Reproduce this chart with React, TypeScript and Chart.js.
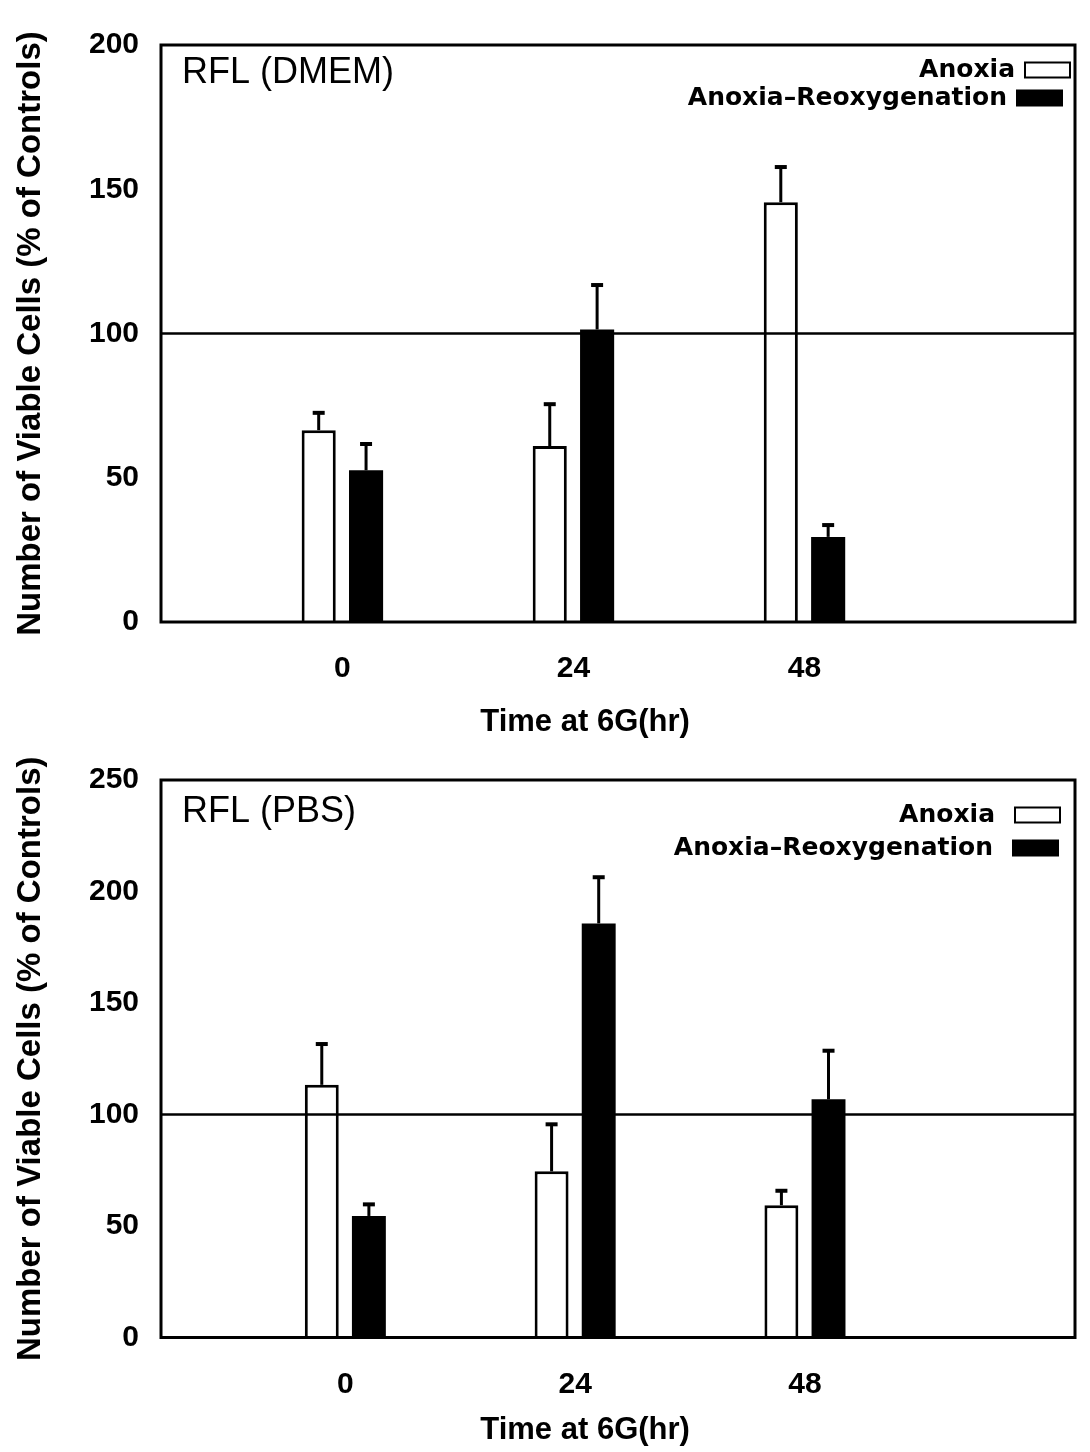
import React, { useEffect, useRef } from 'react';
import { Chart, registerables } from 'chart.js';

Chart.register(...registerables);

// ---- data ----
const TIME_HOURS = [0, 24, 48];
const TIME_LABELS = ['0', '24', '48'];
const SERIES_LABELS = ['Anoxia', 'Anoxia\u2013Reoxygenation'];
const CONTROL_LEVEL = 100;

const DMEM_ANOXIA = [66.5, 61, 145.5];
const DMEM_ANOXIA_ERR = [6, 14.5, 12.2];
const DMEM_REOX = [52.6, 101.4, 29.5];
const DMEM_REOX_ERR = [9.1, 15.4, 4.1];
const DMEM_Y_TICKS = [0, 50, 100, 150, 200];

const PBS_ANOXIA = [113.3, 74.5, 59.3];
const PBS_ANOXIA_ERR = [18.3, 21.1, 6.5];
const PBS_REOX = [54.5, 185.7, 106.8];
const PBS_REOX_ERR = [5.2, 20.7, 21.8];
const PBS_Y_TICKS = [0, 50, 100, 150, 200, 250];

const Y_TITLE = 'Number of Viable Cells (% of Controls)';
const X_TITLE = 'Time at 6G(hr)';

const SANS = '"Liberation Sans", Arial, sans-serif';

const decorPlugin = {
  id: 'decor',
  afterDatasetsDraw(chart: any, _args: any, opts: any) {
    const { ctx, chartArea: a } = chart;
    const y = chart.scales.y;
    ctx.save();
    ctx.strokeStyle = '#000';
    ctx.fillStyle = '#000';
    // control reference line
    const yRef = y.getPixelForValue(opts.refLevel);
    ctx.lineWidth = 2.5;
    ctx.beginPath();
    ctx.moveTo(a.left, yRef);
    ctx.lineTo(a.right, yRef);
    ctx.stroke();
    // error bars (upper only)
    chart.data.datasets.forEach((ds: any, di: number) => {
      const meta = chart.getDatasetMeta(di);
      meta.data.forEach((el: any, i: number) => {
        const v = ds.data[i].y;
        const e = ds.errors[i];
        const yTop = y.getPixelForValue(v + e);
        ctx.lineWidth = 3;
        ctx.beginPath();
        ctx.moveTo(el.x, el.y);
        ctx.lineTo(el.x, yTop);
        ctx.stroke();
        ctx.lineWidth = 4;
        ctx.beginPath();
        ctx.moveTo(el.x - 6, yTop);
        ctx.lineTo(el.x + 6, yTop);
        ctx.stroke();
      });
    });
    // frame
    ctx.lineWidth = 3;
    ctx.strokeRect(a.left, a.top, a.right - a.left, a.bottom - a.top);
    // panel title
    ctx.font = `36px ${SANS}`;
    ctx.textAlign = 'left';
    ctx.textBaseline = 'middle';
    ctx.fillText(opts.title, a.left + 21, a.top + opts.titleDy);
    // x axis title
    ctx.font = `bold 31px ${SANS}`;
    ctx.textAlign = 'center';
    ctx.fillText(opts.xTitle, a.left + (a.right - a.left) * 0.464, a.bottom + opts.xTitleDy);
    // legend
    ctx.font = 'bold 25px "DejaVu Sans", sans-serif';
    ctx.textAlign = 'right';
    const boxW = 45;
    const boxH = 15;
    chart.data.datasets.forEach((ds: any, di: number) => {
      const cy = a.top + opts.legendY[di];
      const bx = a.right - opts.legendRight[di] - boxW;
      ctx.fillStyle = ds.backgroundColor;
      ctx.fillRect(bx, cy - boxH / 2, boxW, boxH);
      ctx.lineWidth = 2;
      ctx.strokeRect(bx, cy - boxH / 2, boxW, boxH);
      ctx.fillStyle = '#000';
      ctx.fillText(ds.label, bx - opts.legendGap, cy);
    });
    ctx.restore();
  },
};

function makeConfig(p: any) {
  return {
    type: 'bar',
    data: {
      datasets: [
        {
          label: SERIES_LABELS[0],
          data: TIME_HOURS.map((x, i) => ({ x, y: p.anoxia[i] })),
          errors: p.anoxiaErr,
          backgroundColor: '#ffffff',
          borderColor: '#000000',
          borderWidth: 3,
          categoryPercentage: 0.41,
          barPercentage: 0.72,
        },
        {
          label: SERIES_LABELS[1],
          data: TIME_HOURS.map((x, i) => ({ x, y: p.reox[i] })),
          errors: p.reoxErr,
          backgroundColor: '#000000',
          borderColor: '#000000',
          borderWidth: 0,
          categoryPercentage: 0.41,
          barPercentage: 0.72,
        },
      ],
    },
    options: {
      responsive: false,
      animation: false,
      layout: { padding: { left: 0, right: 15, top: p.padTop, bottom: 0 } },
      plugins: {
        legend: { display: false },
        tooltip: { enabled: false },
        decor: {
          refLevel: CONTROL_LEVEL,
          title: p.title,
          titleDy: p.titleDy,
          xTitle: X_TITLE,
          xTitleDy: p.xTitleDy,
          legendY: p.legendY,
          legendRight: p.legendRight,
          legendGap: p.legendGap,
        },
      },
      scales: {
        x: {
          type: 'linear',
          min: p.xMin,
          max: p.xMax,
          offset: false,
          grid: { display: false, drawTicks: false },
          border: { display: false },
          afterBuildTicks: (s: any) => {
            s.ticks = TIME_HOURS.map((v) => ({ value: v }));
          },
          afterFit: (s: any) => {
            s.height = p.xAxisHeight;
          },
          ticks: {
            autoSkip: false,
            maxRotation: 0,
            padding: 29,
            color: '#000',
            font: { family: SANS, size: 30, weight: 'bold' },
            callback: (v: number) => {
              const i = TIME_HOURS.indexOf(v);
              return i >= 0 ? TIME_LABELS[i] : '';
            },
          },
          title: { display: false },
        },
        y: {
          min: 0,
          max: p.yMax,
          grid: { display: false, drawTicks: false },
          border: { display: false },
          afterBuildTicks: (s: any) => {
            s.ticks = p.yTicks.map((v: number) => ({ value: v }));
          },
          afterFit: (s: any) => {
            s.width = 161;
          },
          ticks: {
            padding: 22,
            color: '#000',
            font: { family: SANS, size: 30, weight: 'bold' },
          },
          title: {
            display: true,
            text: Y_TITLE,
            color: '#000',
            font: { family: SANS, size: 33, weight: 'bold' },
            padding: { top: 11, bottom: 0 },
          },
        },
      },
    },
    plugins: [decorPlugin],
  };
}

const PANELS = [
  {
    key: 'dmem',
    top: 0,
    height: 740,
    title: 'RFL (DMEM)',
    anoxia: DMEM_ANOXIA,
    anoxiaErr: DMEM_ANOXIA_ERR,
    reox: DMEM_REOX,
    reoxErr: DMEM_REOX_ERR,
    yMax: 200,
    yTicks: DMEM_Y_TICKS,
    padTop: 45,
    xAxisHeight: 118,
    xMin: -18.84,
    xMax: 76.1,
    titleDy: 28,
    xTitleDy: 100,
    legendY: [25, 53],
    legendRight: [5, 13],
    legendGap: 10,
  },
  {
    key: 'pbs',
    top: 740,
    height: 712,
    title: 'RFL (PBS)',
    anoxia: PBS_ANOXIA,
    anoxiaErr: PBS_ANOXIA_ERR,
    reox: PBS_REOX,
    reoxErr: PBS_REOX_ERR,
    yMax: 250,
    yTicks: PBS_Y_TICKS,
    padTop: 20,
    xAxisHeight: 114.5,
    xMin: -19.25,
    xMax: 76.2,
    titleDy: 32,
    xTitleDy: 93,
    legendY: [35, 68],
    legendRight: [15, 17],
    legendGap: 20,
  },
];

function Panel({ p }: { p: any }) {
  const ref = useRef<HTMLCanvasElement | null>(null);
  useEffect(() => {
    if (!ref.current) return;
    const chart = new Chart(ref.current, makeConfig(p) as any);
    return () => chart.destroy();
  }, [p]);
  return (
    <canvas
      ref={ref}
      width={1090}
      height={p.height}
      style={{ position: 'absolute', left: 0, top: p.top, width: 1090, height: p.height, display: 'block' }}
    />
  );
}

export default function App() {
  return (
    <div style={{ position: 'absolute', left: 0, top: 0, width: 1090, height: 1452, background: '#fff' }}>
      {PANELS.map((p) => (
        <Panel key={p.key} p={p} />
      ))}
    </div>
  );
}
